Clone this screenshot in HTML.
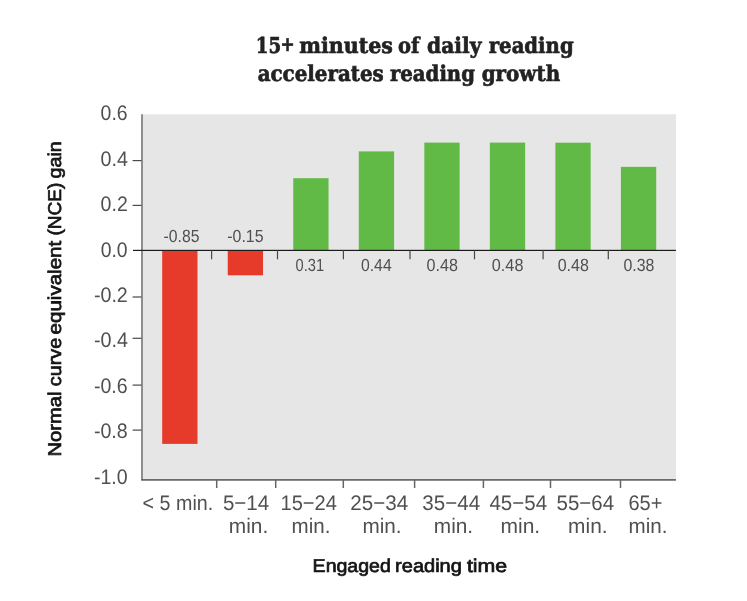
<!DOCTYPE html>
<html lang="en">
<head>
<meta charset="utf-8">
<title>15+ minutes of daily reading accelerates reading growth</title>
<style>
html,body{margin:0;padding:0;background:#fff;}
body{width:747px;height:601px;overflow:hidden;}
svg{display:block;text-rendering:geometricPrecision;}
text{font-family:"Liberation Sans",sans-serif;}
.sans{font-family:"Liberation Sans",sans-serif;font-weight:normal;}
.sansb{font-family:"Liberation Sans",sans-serif;font-weight:bold;}
.serifb{font-family:"Liberation Serif",serif;font-weight:bold;}
.dserifb{font-family:"DejaVu Serif","Liberation Serif",serif;font-weight:bold;}
.dserifcb{font-family:"DejaVu Serif Condensed","DejaVu Serif","Liberation Serif",serif;font-weight:bold;}
</style>
</head>
<body>
<svg width="747" height="601" viewBox="0 0 747 601">
<rect x="0" y="0" width="747" height="601" fill="#ffffff"/>
<rect x="142" y="114.3" width="534" height="365.5" fill="#e6e6e6"/>
<text transform="translate(255.76,53.30) scale(0.9324,1)" font-size="21.8" fill="#222222" class="dserifcb" stroke="#222222" stroke-width="0.6">15<tspan font-size="20.12" dx="-0.85" dy="-2.49">+</tspan></text>
<text transform="translate(299.21,53.30) scale(1.0483,1)" font-size="21.8" fill="#222222" class="dserifcb" textLength="89.31" lengthAdjust="spacingAndGlyphs" stroke="#222222" stroke-width="0.6">minutes</text>
<text transform="translate(398.09,53.30) scale(0.9933,1)" font-size="21.8" fill="#222222" class="dserifcb" textLength="21.51" lengthAdjust="spacingAndGlyphs" stroke="#222222" stroke-width="0.6">of</text>
<text transform="translate(427.06,53.30) scale(1.0310,1)" font-size="21.8" fill="#222222" class="dserifcb" textLength="52.72" lengthAdjust="spacingAndGlyphs" stroke="#222222" stroke-width="0.6">daily</text>
<text transform="translate(488.75,53.30) scale(1.0029,1)" font-size="21.8" fill="#222222" class="dserifcb" textLength="84.66" lengthAdjust="spacingAndGlyphs" stroke="#222222" stroke-width="0.6">reading</text>
<text transform="translate(257.67,81.20) scale(1.0113,1)" font-size="21.8" fill="#222222" class="dserifcb" textLength="124.62" lengthAdjust="spacingAndGlyphs" stroke="#222222" stroke-width="0.6">accelerates</text>
<text transform="translate(389.95,81.20) scale(1.0041,1)" font-size="21.8" fill="#222222" class="dserifcb" textLength="84.66" lengthAdjust="spacingAndGlyphs" stroke="#222222" stroke-width="0.6">reading</text>
<text transform="translate(481.67,81.20) scale(1.0147,1)" font-size="21.8" fill="#222222" class="dserifcb" textLength="77.33" lengthAdjust="spacingAndGlyphs" stroke="#222222" stroke-width="0.6">growth</text>
<rect x="162.20" y="250.40" width="35.3" height="193.50" fill="#e63b2a"/>
<rect x="227.73" y="250.40" width="35.3" height="24.90" fill="#e63b2a"/>
<rect x="293.26" y="178.20" width="35.3" height="72.20" fill="#62ba46"/>
<rect x="358.79" y="151.40" width="35.3" height="99.00" fill="#62ba46"/>
<rect x="424.32" y="142.60" width="35.3" height="107.80" fill="#62ba46"/>
<rect x="489.85" y="142.60" width="35.3" height="107.80" fill="#62ba46"/>
<rect x="555.38" y="142.70" width="35.3" height="107.70" fill="#62ba46"/>
<rect x="620.91" y="166.85" width="35.3" height="83.55" fill="#62ba46"/>
<rect x="141" y="114.3" width="2" height="366" fill="#8e8e8e"/>
<rect x="141.4" y="479.1" width="534.5" height="1.6" fill="#5c5c5c"/>
<rect x="133" y="249.80" width="542.9" height="1.2" fill="#1c1c1c"/>
<rect x="132.6" y="160.00" width="8.9" height="1.2" fill="#4a4a4a"/>
<rect x="132.6" y="204.80" width="8.9" height="1.2" fill="#4a4a4a"/>
<rect x="132.6" y="296.40" width="8.9" height="1.2" fill="#4a4a4a"/>
<rect x="132.6" y="337.70" width="8.9" height="1.2" fill="#4a4a4a"/>
<rect x="132.6" y="384.50" width="8.9" height="1.2" fill="#4a4a4a"/>
<rect x="132.6" y="429.50" width="8.9" height="1.2" fill="#4a4a4a"/>
<rect x="211.00" y="250.4" width="1.2" height="8.9" fill="#4a4a4a"/>
<rect x="276.90" y="250.4" width="1.2" height="8.9" fill="#4a4a4a"/>
<rect x="342.80" y="250.4" width="1.2" height="8.9" fill="#4a4a4a"/>
<rect x="409.40" y="250.4" width="1.2" height="8.9" fill="#4a4a4a"/>
<rect x="473.90" y="250.4" width="1.2" height="8.9" fill="#4a4a4a"/>
<rect x="542.50" y="250.4" width="1.2" height="8.9" fill="#4a4a4a"/>
<rect x="607.70" y="250.4" width="1.2" height="8.9" fill="#4a4a4a"/>
<rect x="215.95" y="480" width="1.5" height="8" fill="#666666"/>
<rect x="274.95" y="480" width="1.5" height="8" fill="#666666"/>
<rect x="342.55" y="480" width="1.5" height="8" fill="#666666"/>
<rect x="413.85" y="480" width="1.5" height="8" fill="#666666"/>
<rect x="482.65" y="480" width="1.5" height="8" fill="#666666"/>
<rect x="549.75" y="480" width="1.5" height="8" fill="#666666"/>
<rect x="619.75" y="480" width="1.5" height="8" fill="#666666"/>
<text transform="translate(100.62,120.40) scale(0.9251,1)" font-size="21.0" fill="#505050" class="sans" textLength="29.19" lengthAdjust="spacingAndGlyphs">0.6</text>
<text transform="translate(100.61,165.80) scale(0.9362,1)" font-size="21.0" fill="#505050" class="sans" textLength="29.19" lengthAdjust="spacingAndGlyphs">0.4</text>
<text transform="translate(100.62,211.20) scale(0.9304,1)" font-size="21.0" fill="#505050" class="sans" textLength="29.19" lengthAdjust="spacingAndGlyphs">0.2</text>
<text transform="translate(100.63,256.60) scale(0.9215,1)" font-size="21.0" fill="#505050" class="sans" textLength="29.19" lengthAdjust="spacingAndGlyphs">0.0</text>
<text transform="translate(93.92,302.00) scale(0.9363,1)" font-size="21.0" fill="#505050" class="sans" textLength="36.19" lengthAdjust="spacingAndGlyphs">-0.2</text>
<text transform="translate(93.91,347.40) scale(0.9408,1)" font-size="21.0" fill="#505050" class="sans" textLength="36.19" lengthAdjust="spacingAndGlyphs">-0.4</text>
<text transform="translate(93.92,392.80) scale(0.9320,1)" font-size="21.0" fill="#505050" class="sans" textLength="36.19" lengthAdjust="spacingAndGlyphs">-0.6</text>
<text transform="translate(93.92,438.20) scale(0.9320,1)" font-size="21.0" fill="#505050" class="sans" textLength="36.19" lengthAdjust="spacingAndGlyphs">-0.8</text>
<text transform="translate(93.92,483.60) scale(0.9292,1)" font-size="21.0" fill="#505050" class="sans" textLength="36.19" lengthAdjust="spacingAndGlyphs">-1.0</text>
<text transform="translate(163.59,242.00) scale(0.8941,1)" font-size="17.6" fill="#505050" class="sans" textLength="40.12" lengthAdjust="spacingAndGlyphs">-0.85</text>
<text transform="translate(227.29,242.00) scale(0.9018,1)" font-size="17.6" fill="#505050" class="sans" textLength="40.12" lengthAdjust="spacingAndGlyphs">-0.15</text>
<text transform="translate(295.61,271.00) scale(0.8320,1)" font-size="17.6" fill="#505050" class="sans" textLength="34.25" lengthAdjust="spacingAndGlyphs">0.31</text>
<text transform="translate(360.97,271.00) scale(0.8958,1)" font-size="17.6" fill="#505050" class="sans" textLength="34.25" lengthAdjust="spacingAndGlyphs">0.44</text>
<text transform="translate(426.56,271.00) scale(0.9152,1)" font-size="17.6" fill="#505050" class="sans" textLength="34.25" lengthAdjust="spacingAndGlyphs">0.48</text>
<text transform="translate(491.85,271.00) scale(0.9213,1)" font-size="17.6" fill="#505050" class="sans" textLength="34.25" lengthAdjust="spacingAndGlyphs">0.48</text>
<text transform="translate(557.66,271.00) scale(0.9091,1)" font-size="17.6" fill="#505050" class="sans" textLength="34.25" lengthAdjust="spacingAndGlyphs">0.48</text>
<text transform="translate(623.46,271.00) scale(0.9030,1)" font-size="17.6" fill="#505050" class="sans" textLength="34.25" lengthAdjust="spacingAndGlyphs">0.38</text>
<text transform="translate(142.62,509.60) scale(0.9372,1)" font-size="21.0" fill="#505050" class="sans" textLength="75.28" lengthAdjust="spacingAndGlyphs">&lt; 5 min.</text>
<text transform="translate(222.88,509.60) scale(0.9785,1)" font-size="21.0" fill="#505050" class="sans" textLength="47.30" lengthAdjust="spacingAndGlyphs">5−14</text>
<text transform="translate(280.49,509.60) scale(0.9559,1)" font-size="21.0" fill="#505050" class="sans" textLength="58.98" lengthAdjust="spacingAndGlyphs">15−24</text>
<text transform="translate(350.27,509.60) scale(0.9803,1)" font-size="21.0" fill="#505050" class="sans" textLength="58.98" lengthAdjust="spacingAndGlyphs">25−34</text>
<text transform="translate(422.33,509.60) scale(0.9810,1)" font-size="21.0" fill="#505050" class="sans" textLength="58.98" lengthAdjust="spacingAndGlyphs">35−44</text>
<text transform="translate(489.44,509.60) scale(0.9774,1)" font-size="21.0" fill="#505050" class="sans" textLength="58.98" lengthAdjust="spacingAndGlyphs">45−54</text>
<text transform="translate(556.48,509.60) scale(0.9767,1)" font-size="21.0" fill="#505050" class="sans" textLength="58.98" lengthAdjust="spacingAndGlyphs">55−64</text>
<text transform="translate(628.50,509.60) scale(0.9509,1)" font-size="21.0" fill="#505050" class="sans" textLength="35.62" lengthAdjust="spacingAndGlyphs">65+</text>
<text transform="translate(228.79,533.30) scale(0.9950,1)" font-size="21.0" fill="#505050" class="sans" textLength="39.67" lengthAdjust="spacingAndGlyphs">min.</text>
<text transform="translate(291.61,533.30) scale(0.9785,1)" font-size="21.0" fill="#505050" class="sans" textLength="39.67" lengthAdjust="spacingAndGlyphs">min.</text>
<text transform="translate(362.40,533.30) scale(0.9867,1)" font-size="21.0" fill="#505050" class="sans" textLength="39.67" lengthAdjust="spacingAndGlyphs">min.</text>
<text transform="translate(433.79,533.30) scale(0.9922,1)" font-size="21.0" fill="#505050" class="sans" textLength="39.67" lengthAdjust="spacingAndGlyphs">min.</text>
<text transform="translate(500.48,533.30) scale(1.0005,1)" font-size="21.0" fill="#505050" class="sans" textLength="39.67" lengthAdjust="spacingAndGlyphs">min.</text>
<text transform="translate(568.09,533.30) scale(0.9950,1)" font-size="21.0" fill="#505050" class="sans" textLength="39.67" lengthAdjust="spacingAndGlyphs">min.</text>
<text transform="translate(628.61,533.30) scale(0.9812,1)" font-size="21.0" fill="#505050" class="sans" textLength="39.67" lengthAdjust="spacingAndGlyphs">min.</text>
<text transform="translate(312.59,572.30) scale(1.0566,1)" font-size="18.5" fill="#141414" class="sans" textLength="74.07" lengthAdjust="spacingAndGlyphs" stroke="#141414" stroke-width="0.7">Engaged</text>
<text transform="translate(395.10,572.30) scale(1.0819,1)" font-size="18.5" fill="#141414" class="sans" textLength="61.72" lengthAdjust="spacingAndGlyphs" stroke="#141414" stroke-width="0.7">reading</text>
<text transform="translate(466.88,572.30) scale(1.1520,1)" font-size="18.5" fill="#141414" class="sans" textLength="34.95" lengthAdjust="spacingAndGlyphs" stroke="#141414" stroke-width="0.7">time</text>
<text transform="translate(61.30,456.56) rotate(-90) scale(1.0908,1)" font-size="18.5" fill="#141414" class="sans" textLength="59.62" lengthAdjust="spacingAndGlyphs" stroke="#141414" stroke-width="0.7">Normal</text>
<text transform="translate(61.30,386.14) rotate(-90) scale(1.0673,1)" font-size="18.5" fill="#141414" class="sans" textLength="45.24" lengthAdjust="spacingAndGlyphs" stroke="#141414" stroke-width="0.7">curve</text>
<text transform="translate(61.30,334.47) rotate(-90) scale(1.1110,1)" font-size="18.5" fill="#141414" class="sans" textLength="84.34" lengthAdjust="spacingAndGlyphs" stroke="#141414" stroke-width="0.7">equivalent</text>
<text transform="translate(61.30,235.59) rotate(-90) scale(1.0302,1)" font-size="18.5" fill="#141414" class="sans" textLength="51.38" lengthAdjust="spacingAndGlyphs" stroke="#141414" stroke-width="0.7">(NCE)</text>
<text transform="translate(61.30,178.44) rotate(-90) scale(1.0629,1)" font-size="18.5" fill="#141414" class="sans" textLength="34.98" lengthAdjust="spacingAndGlyphs" stroke="#141414" stroke-width="0.7">gain</text>
</svg>
</body>
</html>
